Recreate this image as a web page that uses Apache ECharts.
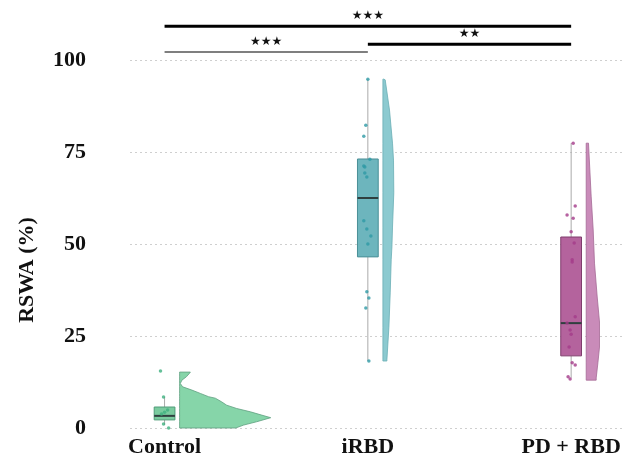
<!DOCTYPE html>
<html><head><meta charset="utf-8">
<script src="https://cdn.jsdelivr.net/npm/echarts@6/dist/echarts.min.js"></script>
<style>html,body{margin:0;padding:0;background:#fff}#c{width:624px;height:465px}</style>
</head><body><div id="c"></div>
<script>
// ---------- data ----------
const categories = ['Control', 'iRBD', 'PD + RBD'];
const positions = [1, 2, 3];
const yTicks = [0, 25, 50, 75, 100];

// box stats [whiskerLow, q1, median, q3, whiskerHigh]
const controlBox = [0.8, 2.2, 3.3, 5.7, 8.4];
const irbdBox = [18.2, 46.5, 62.5, 73.1, 94.8];
const pdBox = [13.6, 19.6, 28.5, 51.9, 77.4];

// individual observations and their horizontal jitter (axis units)
const controlPoints = [15.5, 8.4, 4.9, 4.3, 3.8, 1.1, 0];
const controlJitter = [-0.02, -0.005, 0.015, 0, -0.015, -0.005, 0.02];
const irbdPoints = [94.8, 82.3, 79.3, 73.0, 71.2, 70.9, 69.3, 68.2, 56.3, 54.1, 52.2, 50.0, 37.0, 35.3, 32.6, 18.2];
const irbdJitter = [0, -0.01, -0.02, 0.01, -0.02, -0.015, -0.015, -0.005, -0.02, -0.005, 0.015, 0, -0.005, 0.005, -0.01, 0.005];
const pdPoints = [77.4, 60.3, 57.9, 57.0, 53.3, 50.3, 45.7, 45.1, 30.2, 28.5, 26.6, 25.5, 22.0, 17.7, 17.1, 13.9, 13.3];
const pdJitter = [0.01, 0.02, -0.02, 0.01, 0, 0.015, 0.005, 0.005, 0.02, -0.02, -0.005, 0, -0.01, 0.005, 0.02, -0.015, -0.005];

// half-violin density profiles: value levels and density (relative width)
const controlViolinY = [15.2, 14.9, 13.9, 13.0, 12.1, 11.2, 10.3, 9.4, 8.5, 8.1, 7.1, 6.2, 5.3, 4.4, 3.5, 2.8, 1.7, 0.8, 0];
const controlViolinD = [10.7, 10, 6.7, 2.3, 0.7, 3, 12.3, 20.7, 29, 35.7, 42, 47, 57, 70.7, 82, 91, 77, 64, 56];
const irbdViolinY = [94.8, 94.6, 86.4, 77.4, 72.8, 63.9, 54.6, 49.2, 45.7, 36.7, 27.4, 18.5, 18.2];
const irbdViolinD = [1, 2.3, 6.6, 9.6, 10.6, 10.9, 9.6, 9, 8.3, 7.3, 6, 4, 4];
const pdViolinY = [77.4, 72.0, 62.8, 53.8, 44.8, 35.6, 28.8, 22.0, 17.7, 13.6, 13.0];
const pdViolinD = [2.3, 3.3, 5, 7, 8.3, 11, 13.3, 13.3, 11.7, 10, 10];

// significance brackets
const bracketFrom = [1, 1, 2];
const bracketTo = [3, 2, 3];
const bracketY = [109.2, 102.2, 104.3];
const bracketStars = [3, 3, 2];

// ---------- styles ----------
const boxes = [controlBox, irbdBox, pdBox];
const violinsY = [controlViolinY, irbdViolinY, pdViolinY];
const violinsD = [controlViolinD, irbdViolinD, pdViolinD];
const pointSets = [controlPoints, irbdPoints, pdPoints];
const jitterSets = [controlJitter, irbdJitter, pdJitter];
const boxFill = ['#7acb9f', '#6db5bd', '#b4639d'];
const boxBorder = ['#4f9c78', '#4a8f97', '#7f3d6d'];
const violinFill = ['#86d5a9', '#8ccad0', '#c98bb9'];
const violinBorder = ['#5f9f80', '#6aaeb5', '#a46a95'];
const pointColor = ['#3fb07f', '#2e9aa5', '#a43b8a'];
const BOX_HALF = 0.051;         // axis units
const VIOLIN_OFFSET = 0.074;    // axis units from group centre
const DENSITY_SCALE = 1 / 203;  // axis units per density unit
const bracketWidth = [3, 1.5, 3];
const bracketColor = ['#000', '#555', '#000'];
const serif = '"Liberation Serif", "DejaVu Serif", serif';

const chart = echarts.init(document.getElementById('c'), null, { renderer: 'canvas' });

function renderGroup(params, api) {
  const i = params.dataIndex;
  const pos = positions[i];
  const b = boxes[i];
  const children = [];
  // violin
  const vy = violinsY[i], vd = violinsD[i];
  const left = pos + VIOLIN_OFFSET;
  const pts = [];
  for (let k = 0; k < vy.length; k++) pts.push(api.coord([left, vy[k]]));
  for (let k = vy.length - 1; k >= 0; k--) pts.push(api.coord([left + vd[k] * DENSITY_SCALE, vy[k]]));
  children.push({ type: 'polygon', shape: { points: pts },
    style: { fill: violinFill[i], stroke: violinBorder[i], lineWidth: 0.8, lineJoin: 'round' } });
  // whiskers
  const wLo = api.coord([pos, b[0]]), q1 = api.coord([pos, b[1]]), q3 = api.coord([pos, b[3]]), wHi = api.coord([pos, b[4]]);
  children.push({ type: 'line', shape: { x1: wLo[0], y1: wLo[1], x2: q1[0], y2: q1[1] }, style: { stroke: '#aaa', lineWidth: 1 } });
  children.push({ type: 'line', shape: { x1: q3[0], y1: q3[1], x2: wHi[0], y2: wHi[1] }, style: { stroke: '#aaa', lineWidth: 1 } });
  // box
  const tl = api.coord([pos - BOX_HALF, b[3]]), br = api.coord([pos + BOX_HALF, b[1]]);
  children.push({ type: 'rect', shape: { x: tl[0], y: tl[1], width: br[0] - tl[0], height: br[1] - tl[1] },
    style: { fill: boxFill[i], stroke: boxBorder[i], lineWidth: 1 } });
  const m1 = api.coord([pos - BOX_HALF, b[2]]), m2 = api.coord([pos + BOX_HALF, b[2]]);
  children.push({ type: 'line', shape: { x1: m1[0], y1: m1[1], x2: m2[0], y2: m2[1] }, style: { stroke: '#2f3f3f', lineWidth: 2 } });
  return { type: 'group', children };
}

function renderBracket(params, api) {
  const i = params.dataIndex;
  const a = api.coord([bracketFrom[i], bracketY[i]]);
  const c = api.coord([bracketTo[i], bracketY[i]]);
  const mid = (a[0] + c[0]) / 2;
  const stars = Array(bracketStars[i]).fill('★').join('');
  return { type: 'group', children: [
    { type: 'line', shape: { x1: a[0], y1: a[1], x2: c[0], y2: c[1] }, style: { stroke: bracketColor[i], lineWidth: bracketWidth[i] } },
    { type: 'text', x: mid, y: a[1] - 10, style: { text: stars, fill: '#111', font: '12px "DejaVu Sans"', align: 'center', verticalAlign: 'middle' } }
  ] };
}

const scatterSeries = pointSets.map((ps, g) => ({
  type: 'scatter', z: 5, symbolSize: 3.5,
  itemStyle: { color: pointColor[g], opacity: 0.8 },
  data: ps.map((v, k) => [positions[g] + jitterSets[g][k], v])
}));

chart.setOption({
  animation: false,
  backgroundColor: '#fff',
  grid: { left: 130, right: 0, top: 60, bottom: 37 },
  xAxis: {
    type: 'value', min: 0.83, max: 3.26,
    axisLine: { show: false }, axisTick: { show: false }, splitLine: { show: false },
    axisLabel: { customValues: positions, formatter: v => categories[Math.round(v) - 1] || '',
      fontFamily: serif, fontWeight: 'bold', fontSize: 22, color: '#111', margin: 8 }
  },
  yAxis: {
    type: 'value', min: yTicks[0], max: yTicks[yTicks.length - 1], interval: 25,
    name: 'RSWA (%)', nameLocation: 'middle', nameGap: 92,
    nameTextStyle: { fontFamily: serif, fontWeight: 'bold', fontSize: 22, color: '#111', padding: [0, 52, 0, 0] },
    axisLine: { show: false }, axisTick: { show: false },
    splitLine: { show: true, lineStyle: { type: [2, 3], color: '#cfcfcf', width: 1 } },
    axisLabel: { fontFamily: serif, fontWeight: 'bold', fontSize: 22, color: '#111', margin: 44 }
  },
  series: [
    { type: 'custom', renderItem: renderGroup, clip: false, z: 3,
      data: positions.map((p, i) => [p, boxes[i][2]]) },
    ...scatterSeries,
    { type: 'custom', renderItem: renderBracket, clip: false, z: 6,
      data: bracketY.map((y, i) => [(bracketFrom[i] + bracketTo[i]) / 2, y]) }
  ]
});
</script>
</body></html>
